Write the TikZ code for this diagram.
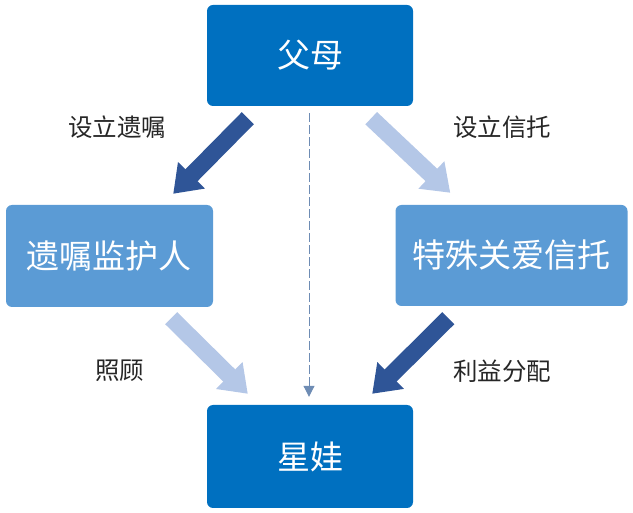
\documentclass[tikz,border=0pt]{standalone}
\usepackage{fontspec}
\setmainfont{Noto Sans CJK SC}
\usetikzlibrary{arrows.meta,calc}
\definecolor{deepblue}{RGB}{0,112,192}
\definecolor{midblue}{RGB}{91,155,213}
\definecolor{navyarrow}{RGB}{47,85,151}
\definecolor{paleblue}{RGB}{180,199,231}
\definecolor{dashblue}{RGB}{110,140,180}

\begin{document}
\begin{tikzpicture}[x=1pt,y=-1pt,
    box/.style={rounded corners=6pt, inner sep=0pt, text=white, font=\fontsize{33}{36}\selectfont},
    edgetext/.style={text=black!85, font=\fontsize{24.5}{28}\selectfont},
    bigarrow/.style={line width=17pt, -{Triangle[width=36pt,length=26pt]}}]
    \useasboundingbox (0,0) rectangle (633,513);

    % boxes
    \node[box, fill=deepblue, minimum width=206pt, minimum height=101pt] at (310,55.5)   (parents)  {父母};
    \node[box, fill=midblue, minimum width=207pt, minimum height=102pt]  at (109.5,256)  (guardian) {遗嘱监护人};
    \node[box, fill=midblue, minimum width=232pt, minimum height=101pt]  at (511.5,255.5) (trust)   {特殊关爱信托};
    \node[box, fill=deepblue, minimum width=206pt, minimum height=103pt] at (310,456.5)  (kid)      {星娃};

    % arrow ends
    \coordinate (willtail) at ($(parents.south west)+(41,12)$);
    \coordinate (willtip)  at ($(guardian.north east)+(-40,-11)$);
    \coordinate (fundtail) at ($(parents.south east)+(-42,12)$);
    \coordinate (fundtip)  at ($(trust.north west)+(55,-12)$);
    \coordinate (caretail) at ($(guardian.south east)+(-42,11)$);
    \coordinate (caretip)  at ($(kid.north west)+(41,-11)$);
    \coordinate (paytail)  at ($(trust.south west)+(53,12)$);
    \coordinate (paytip)   at ($(kid.north east)+(-41,-11)$);

    \draw[bigarrow, navyarrow] (willtail) -- (willtip);
    \draw[bigarrow, paleblue]  (fundtail) -- (fundtip);
    \draw[bigarrow, paleblue]  (caretail) -- (caretip);
    \draw[bigarrow, navyarrow] (paytail) -- (paytip);

    \draw[dashblue, line width=1pt, dash pattern=on 9pt off 3pt, -{Triangle[width=11pt,length=11pt]},
          shorten <=7pt, shorten >=8pt] ([xshift=-1pt]parents.south) -- ([xshift=-1pt]kid.north);

    % labels
    \node[edgetext] at (117,127) (willtext) {设立遗嘱};
    \node[edgetext] at (502,127) (fundtext) {设立信托};
    \node[edgetext] at (120,371) (caretext) {照顾};
    \node[edgetext] at (502,371) (paytext)  {利益分配};
\end{tikzpicture}
\end{document}
